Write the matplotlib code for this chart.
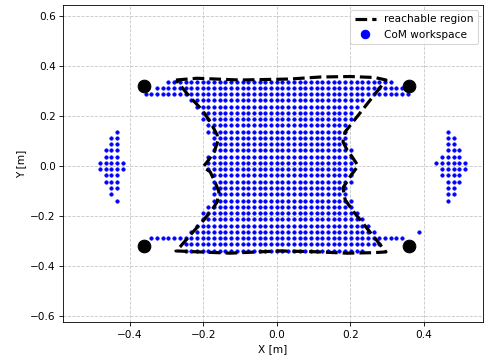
import numpy as np
import matplotlib
matplotlib.use("Agg")
import matplotlib.pyplot as plt
from matplotlib.lines import Line2D

# Foot positions (support polygon corners)
feet_x = [-0.36, 0.36, -0.36, 0.36]
feet_y = [0.32, 0.32, -0.32, -0.32]

# Reachable region boundary (closed polygon)
region_x = [-0.274, -0.217, -0.100, 0.036, 0.118, 0.199, 0.267, 0.297,
            0.186, 0.180, 0.191, 0.205, 0.221, 0.199, 0.180, 0.186, 0.205, 0.297,
            0.262, 0.191, 0.099, 0.009, -0.127, -0.274,
            -0.263, -0.230, -0.203, -0.176, -0.162, -0.157, -0.168, -0.181, -0.200,
            -0.187, -0.170, -0.160, -0.162, -0.181, -0.203, -0.236, -0.274]
region_y = [0.344, 0.351, 0.344, 0.348, 0.356, 0.358, 0.354, 0.344,
            0.137, 0.097, 0.065, 0.037, 0.001, -0.043, -0.087, -0.135, -0.175, -0.343,
            -0.346, -0.348, -0.342, -0.339, -0.348, -0.339,
            -0.323, -0.267, -0.223, -0.175, -0.143, -0.103, -0.063, -0.023, -0.003,
            0.021, 0.057, 0.101, 0.125, 0.177, 0.225, 0.276, 0.344]

# CoM workspace samples: grid columns are multiples of col_step,
# each row lists its y and the first/last occupied column
col_step = 0.0155
row_y = [0.3375, 0.3125, 0.2875, 0.2625, 0.2375, 0.2125, 0.1875, 0.1625,
         0.1375, 0.1125, 0.0875, 0.0625, 0.0375, 0.0125, -0.0125, -0.0375,
         -0.0625, -0.0875, -0.1125, -0.1375, -0.1625, -0.1875, -0.2125,
         -0.2375, -0.2625, -0.2875, -0.3125, -0.3375]
row_first = [-19, -21, -23, -15, -14, -13, -13, -12, -12, -11, -11, -11, -12,
             -12, -12, -11, -11, -11, -11, -11, -12, -13, -13, -14, -15, -22,
             -16, -16]
row_last = [20, 22, 23, 15, 14, 13, 13, 12, 12, 12, 12, 13, 13, 13, 13, 13,
            13, 12, 12, 13, 13, 14, 15, 16, 17, 22, 18, 15]

# Isolated side pockets and stray samples: (y, first column, last column)
side_y = [0.1375, 0.1125, 0.0875, 0.0625, 0.0375, 0.0125, -0.0125, -0.0375,
          -0.0625, -0.0875, -0.1125, -0.1375]
left_first = [-28, -29, -29, -30, -30, -31, -31, -30, -30, -29, -29, -28]
left_last = [-28, -28, -28, -28, -28, -27, -27, -28, -28, -28, -29, -28]
right_first = [30, 30, 30, 30, 29, 28, 29, 29, 30, 30, 30, 30]
right_last = [30, 31, 31, 32, 32, 33, 33, 32, 32, 31, 31, 30]
stray_col = [25]
stray_y = [-0.2625]


def expand(ys, firsts, lasts):
    px, py = [], []
    for y, a, b in zip(ys, firsts, lasts):
        cols = np.arange(a, b + 1)
        px.extend(cols * col_step)
        py.extend([y] * len(cols))
    return px, py


mx, my = expand(row_y, row_first, row_last)
lx, ly = expand(side_y, left_first, left_last)
rx, ry = expand(side_y, right_first, right_last)
sx = list(np.array(stray_col) * col_step)
com_x = np.concatenate([mx, lx, rx, sx])
com_y = np.concatenate([my, ly, ry, stray_y])

fig = plt.figure(figsize=(6.4, 4.75), dpi=75.8)
ax = fig.add_axes([63 / 485, 1 - 322.5 / 360, 420 / 485, 317.5 / 360])

ax.plot(com_x, com_y, "o", color="blue", ms=3.3, mew=0.6, zorder=2)
ax.plot(region_x, region_y, "--", color="black", lw=3, zorder=3)
ax.plot(feet_x, feet_y, "o", color="black", ms=12, zorder=4)

ax.set_xlim(-0.581, 0.561)
ax.set_ylim(-0.625, 0.644)
ax.set_xticks([-0.4, -0.2, 0.0, 0.2, 0.4])
ax.set_yticks([-0.6, -0.4, -0.2, 0.0, 0.2, 0.4, 0.6])
ax.grid(True, linestyle="--", color="0.78", lw=0.8)
ax.set_axisbelow(True)
ax.set_xlabel("X [m]")
ax.set_ylabel("Y [m]")

handles = [Line2D([], [], color="black", ls="--", lw=3),
           Line2D([], [], color="blue", marker="o", ls="none", ms=8)]
ax.legend(handles, ["reachable region", "CoM workspace"], loc="upper right")

fig.savefig("out.png", dpi=75.8)
